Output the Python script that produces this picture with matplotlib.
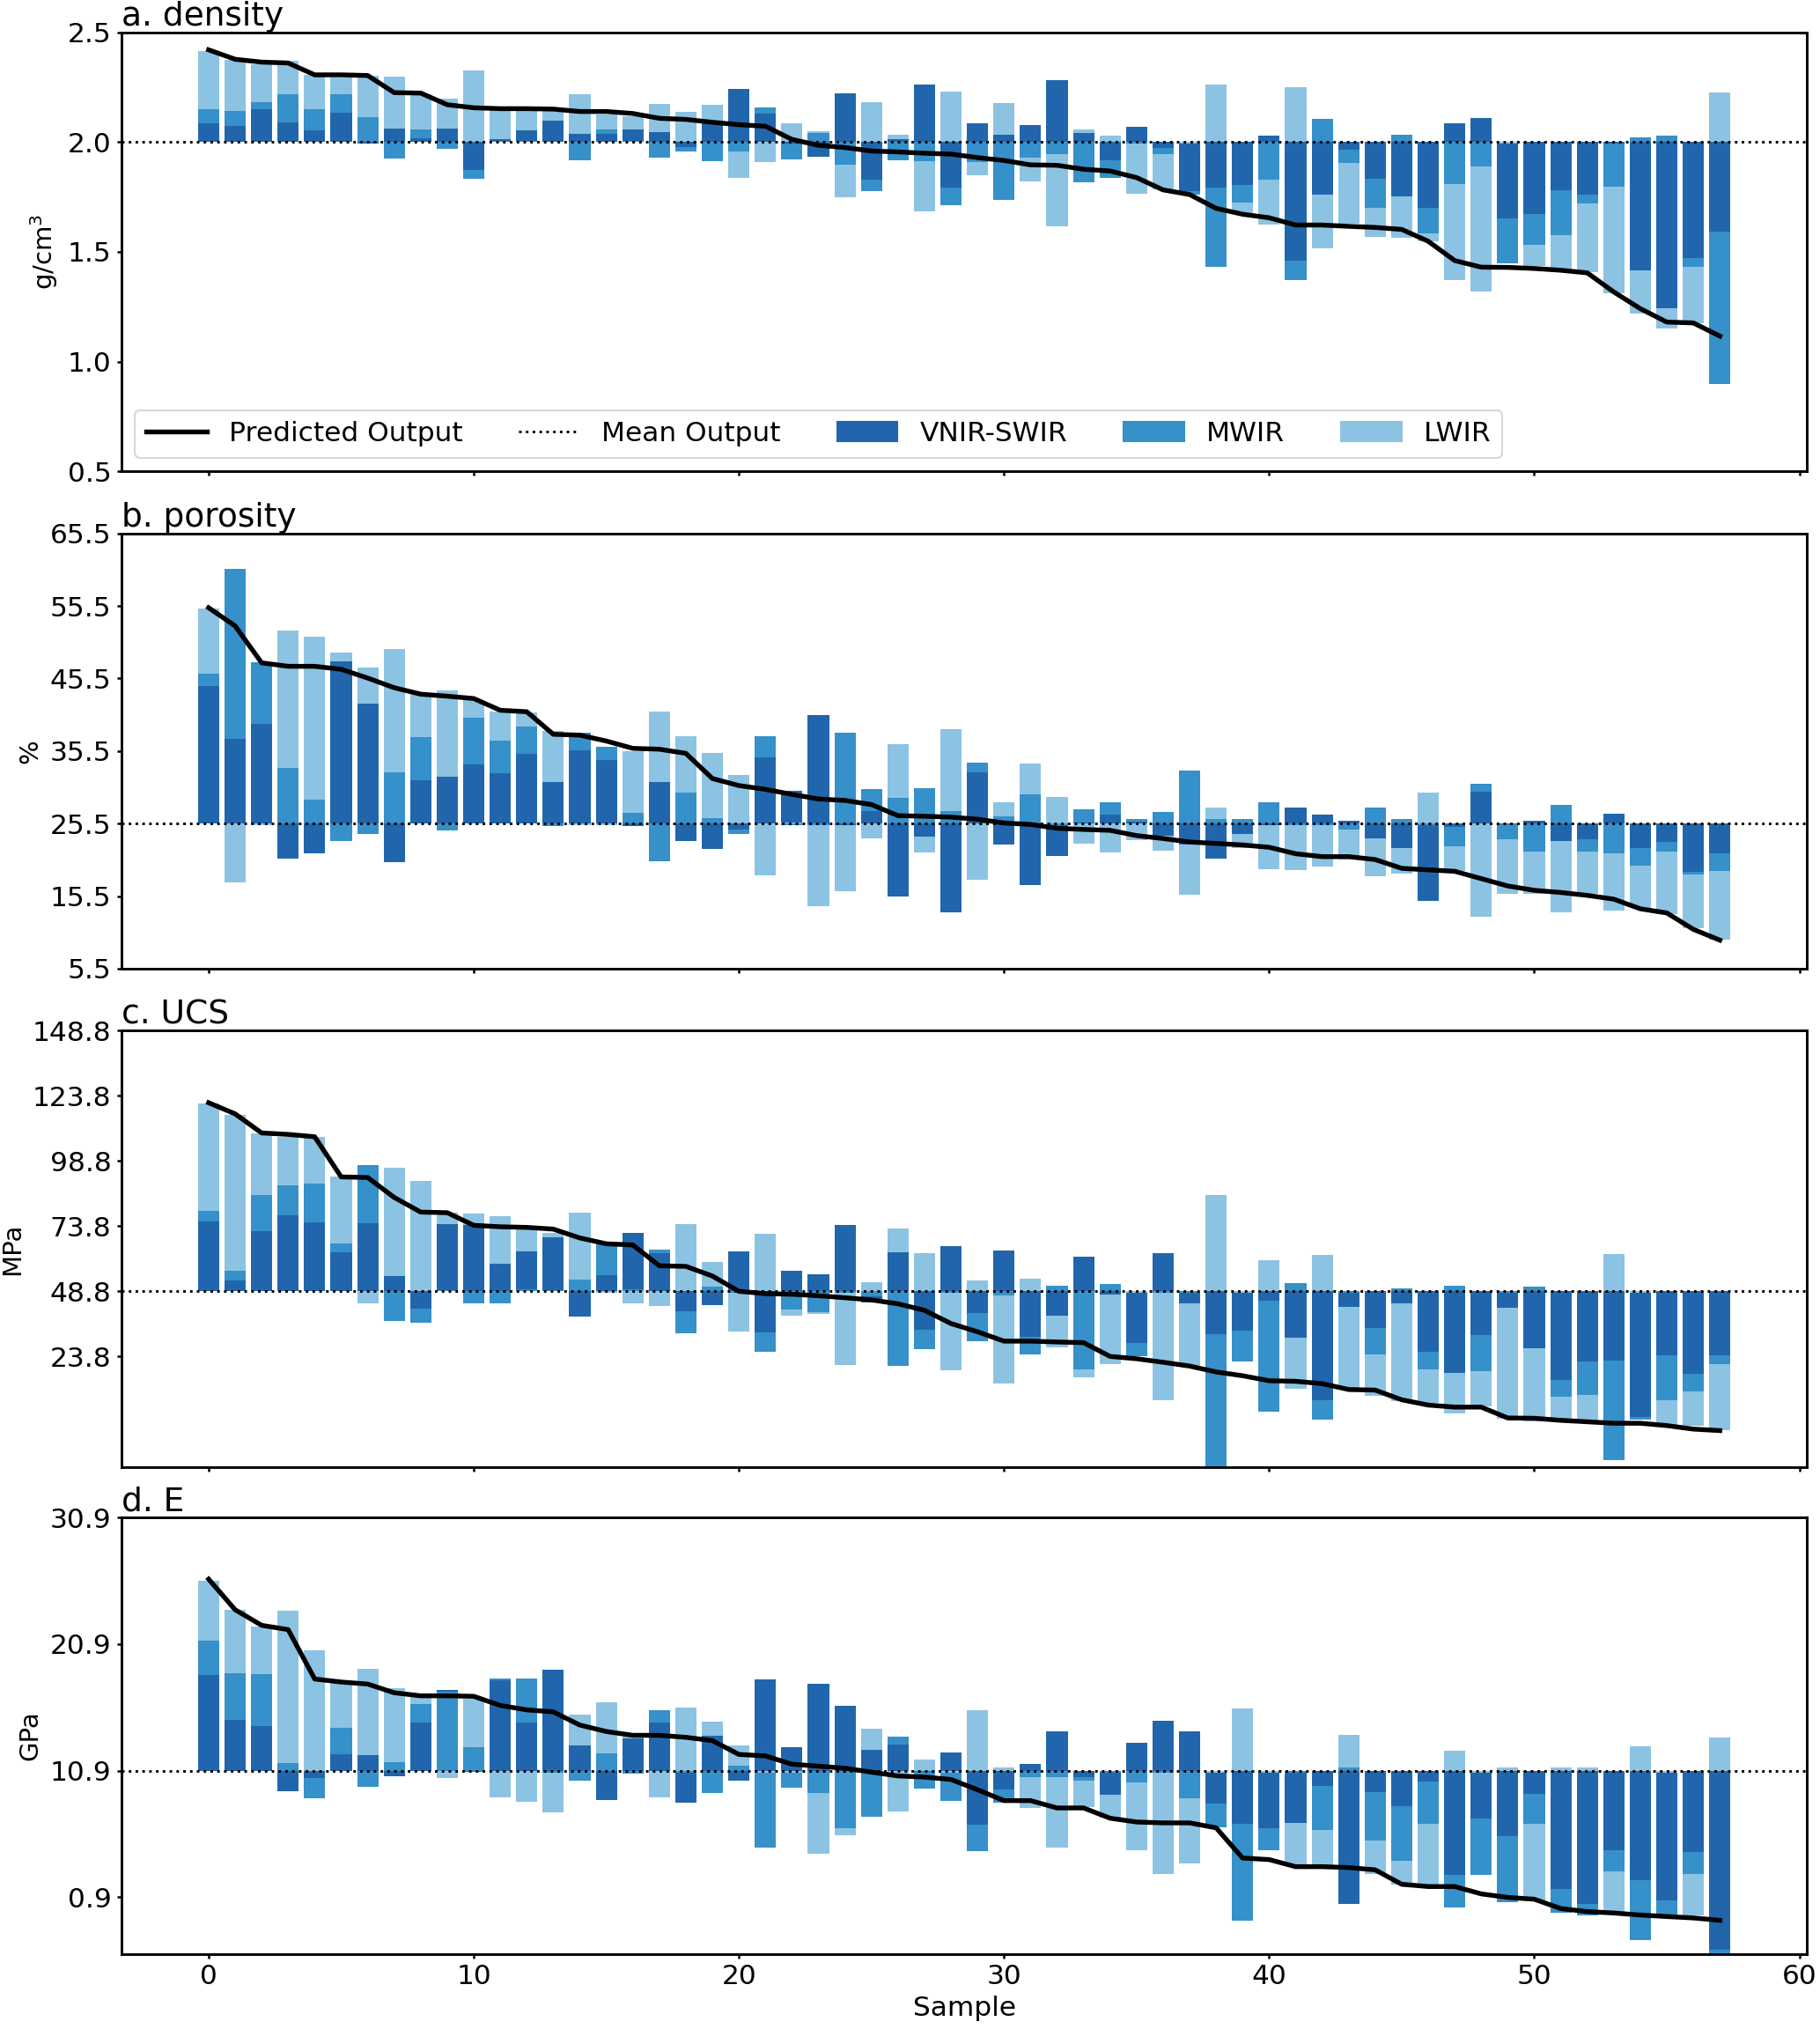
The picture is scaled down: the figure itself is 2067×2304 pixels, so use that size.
import numpy as np
import matplotlib
matplotlib.use("Agg")
import matplotlib.pyplot as plt
from matplotlib.lines import Line2D
from matplotlib.patches import Patch

samples = np.arange(58)

# ---------------- a. density ----------------
mean_a = 2.0
pred_a = [2.420, 2.377, 2.364, 2.360, 2.306, 2.306, 2.303, 2.225, 2.223, 2.170,
          2.156, 2.152, 2.152, 2.150, 2.139, 2.139, 2.130, 2.108, 2.103, 2.090,
          2.079, 2.072, 2.012, 1.985, 1.975, 1.959, 1.955, 1.949, 1.945, 1.929,
          1.916, 1.896, 1.894, 1.876, 1.868, 1.838, 1.782, 1.761, 1.698, 1.671,
          1.655, 1.622, 1.622, 1.616, 1.611, 1.602, 1.548, 1.460, 1.430, 1.429,
          1.424, 1.416, 1.404, 1.317, 1.241, 1.180, 1.176, 1.116]
vnir_a = [2.086, 2.072, 2.148, 2.088, 2.055, 2.135, 1.995, 2.061, 2.019, 2.063,
          1.874, 2.012, 2.055, 2.096, 2.036, 2.039, 2.059, 2.045, 1.976, 2.099,
          2.242, 2.128, 1.995, 1.932, 2.223, 1.828, 2.012, 2.263, 1.794, 2.084,
          2.035, 2.076, 2.282, 2.043, 1.918, 2.071, 1.972, 1.775, 1.794, 1.805,
          2.029, 1.460, 1.762, 1.964, 1.834, 1.751, 1.701, 2.084, 2.108, 1.651,
          1.671, 1.782, 1.762, 1.995, 1.414, 1.243, 1.471, 1.591]
mwir_a = [2.150, 2.143, 2.183, 2.217, 2.150, 2.219, 2.115, 1.925, 2.059, 1.969,
          1.833, 2.005, 2.004, 2.003, 1.918, 2.059, 2.004, 1.928, 1.959, 1.914,
          1.959, 2.156, 1.922, 2.041, 1.896, 1.775, 1.916, 1.914, 1.711, 1.908,
          1.738, 1.928, 1.945, 1.817, 1.837, 1.995, 1.945, 1.761, 1.433, 1.725,
          1.828, 1.370, 2.106, 1.904, 1.702, 2.032, 1.584, 1.807, 1.888, 1.447,
          1.533, 1.574, 1.721, 1.797, 2.021, 2.029, 1.430, 0.896]
lwir_a = [2.416, 2.373, 2.353, 2.370, 2.306, 2.295, 2.300, 2.299, 2.219, 2.199,
          2.326, 2.152, 2.147, 2.146, 2.219, 2.126, 2.119, 2.175, 2.138, 2.168,
          1.836, 1.910, 2.084, 2.048, 1.750, 2.183, 2.035, 1.683, 2.229, 1.848,
          2.176, 1.822, 1.615, 2.059, 2.029, 1.766, 1.785, 1.995, 2.262, 1.678,
          1.623, 2.250, 1.515, 1.627, 1.568, 1.564, 1.548, 1.370, 1.320, 1.995,
          1.434, 1.421, 1.408, 1.310, 1.217, 1.152, 1.174, 2.225]

# ---------------- b. porosity ----------------
mean_b = 25.5
pred_b = [55.25, 52.75, 47.66, 47.18, 47.18, 46.77, 45.56, 44.23, 43.34, 43.06,
          42.74, 41.12, 40.92, 37.81, 37.69, 36.88, 35.87, 35.75, 35.18, 31.71,
          30.74, 30.22, 29.53, 28.89, 28.69, 28.12, 26.59, 26.51, 26.39, 26.10,
          25.58, 25.38, 24.85, 24.69, 24.57, 23.84, 23.44, 22.96, 22.76, 22.55,
          22.23, 21.34, 20.94, 20.94, 20.54, 19.33, 19.12, 18.92, 17.91, 16.90,
          16.30, 16.00, 15.60, 15.08, 13.75, 13.18, 10.92, 9.43]
vnir_b = [44.47, 37.21, 39.19, 20.62, 21.42, 47.87, 42.05, 20.21, 31.48, 31.92,
          33.61, 32.44, 35.11, 31.23, 35.59, 34.30, 25.20, 31.27, 23.08, 22.03,
          24.70, 34.66, 30.00, 40.40, 25.30, 27.20, 15.49, 23.76, 13.27, 32.52,
          22.63, 17.02, 21.06, 25.70, 26.71, 25.80, 23.84, 22.55, 20.66, 24.09,
          25.30, 27.72, 26.79, 25.90, 23.44, 22.15, 14.88, 24.98, 29.94, 25.38,
          25.90, 23.04, 23.36, 26.91, 22.07, 22.96, 18.84, 21.34]
mwir_b = [46.17, 60.62, 47.79, 33.17, 28.77, 23.08, 24.09, 32.52, 37.45, 24.61,
          40.15, 36.93, 38.82, 25.20, 38.06, 36.12, 27.00, 20.25, 29.74, 26.27,
          24.09, 37.49, 25.30, 25.30, 38.00, 30.22, 29.01, 30.43, 27.20, 33.86,
          26.47, 29.50, 25.30, 27.48, 28.49, 26.07, 27.07, 32.77, 26.11, 26.11,
          28.49, 25.30, 25.30, 24.69, 27.72, 26.11, 25.30, 22.35, 30.95, 23.28,
          21.66, 28.12, 21.66, 21.34, 19.73, 21.66, 18.52, 19.00]
lwir_b = [55.17, 17.43, 25.30, 52.10, 51.22, 49.12, 46.98, 49.56, 43.42, 43.91,
          42.54, 40.90, 40.80, 38.22, 25.30, 25.30, 35.47, 41.00, 37.57, 35.27,
          32.24, 18.31, 25.70, 14.07, 16.20, 23.50, 36.48, 21.54, 38.50, 17.71,
          28.41, 33.78, 29.21, 22.75, 21.54, 23.16, 21.75, 15.69, 27.72, 22.07,
          19.20, 19.12, 19.53, 20.53, 18.23, 18.64, 29.74, 18.92, 12.66, 15.77,
          15.77, 13.27, 15.80, 13.47, 13.87, 13.07, 11.05, 9.55]

# ---------------- c. UCS ----------------
mean_c = 48.8
pred_c = [121.17, 116.89, 109.57, 109.01, 108.11, 92.69, 92.47, 84.82, 79.19, 78.97,
          74.12, 73.56, 73.33, 72.66, 69.28, 67.03, 66.58, 58.59, 58.37, 54.66,
          48.80, 47.90, 47.67, 47.11, 46.32, 45.50, 44.00, 41.50, 36.42, 33.27,
          29.67, 29.67, 29.34, 29.10, 23.81, 22.91, 21.56, 20.10, 17.85, 16.39,
          14.47, 14.25, 13.35, 11.10, 10.88, 7.16, 5.14, 4.35, 4.35, 0.18,
          0.07, -0.72, -1.28, -1.84, -1.84, -2.74, -4.09, -4.66]
vnir_c = [75.59, 53.08, 71.87, 78.06, 75.25, 63.77, 74.91, 54.77, 42.05, 74.69,
          74.12, 59.49, 64.22, 69.62, 39.23, 55.00, 71.31, 63.43, 41.15, 43.40,
          64.22, 33.04, 56.68, 55.33, 74.12, 44.50, 63.77, 33.94, 66.25, 40.36,
          64.56, 31.35, 39.57, 61.97, 47.70, 29.10, 63.43, 44.07, 32.48, 33.60,
          45.20, 31.13, 6.93, 42.95, 34.73, 44.07, 25.73, 17.62, 31.92, 42.61,
          26.85, 14.70, 21.79, 22.35, 0.74, 24.38, 17.06, 24.38]
mwir_c = [79.75, 56.68, 85.60, 89.32, 90.10, 67.15, 97.20, 37.32, 36.76, 49.30,
          44.30, 44.30, 49.50, 49.30, 53.30, 66.81, 49.50, 64.78, 32.71, 50.49,
          48.30, 25.50, 41.71, 40.92, 48.30, 47.00, 20.10, 26.50, 48.30, 29.67,
          47.10, 24.60, 50.83, 18.75, 51.61, 24.04, 48.30, 48.30, -19.50, 21.79,
          2.65, 51.84, -0.50, 48.30, 24.60, 49.81, 18.75, 51.05, 18.19, 48.30,
          50.49, 8.28, 9.18, -16.14, -0.50, 7.16, 10.31, 21.00]
lwir_c = [120.80, 116.55, 109.24, 108.11, 107.89, 92.92, 44.30, 96.07, 91.23, 78.85,
          78.63, 77.72, 73.56, 71.30, 78.96, 48.30, 44.07, 43.17, 74.69, 60.05,
          33.38, 70.97, 39.46, 40.02, 20.66, 52.40, 72.77, 63.43, 18.41, 52.96,
          13.57, 53.64, 27.19, 15.94, 21.00, 48.30, 6.93, 20.10, 85.60, 48.30,
          60.84, 11.43, 62.64, 11.43, 8.84, 6.59, 6.03, 2.09, 4.68, -0.16,
          -1.28, -1.28, -1.28, 63.09, 48.30, -2.97, -2.97, -4.66]

# ---------------- d. E ----------------
mean_d = 10.9
pred_d = [26.03, 23.61, 22.38, 22.04, 18.14, 17.90, 17.74, 17.05, 16.81, 16.81,
          16.77, 16.05, 15.70, 15.54, 14.50, 13.99, 13.69, 13.69, 13.53, 13.27,
          12.18, 12.06, 11.41, 11.25, 11.09, 10.78, 10.48, 10.39, 10.20, 9.39,
          8.53, 8.53, 7.95, 7.95, 7.14, 6.84, 6.77, 6.77, 6.38, 3.99,
          3.87, 3.31, 3.31, 3.24, 3.06, 1.92, 1.74, 1.74, 1.16, 0.88,
          0.74, 0.00, -0.24, -0.35, -0.51, -0.63, -0.74, -0.93]
vnir_d = [18.44, 14.89, 14.43, 9.28, 10.32, 12.22, 12.11, 10.48, 14.71, 17.28,
          10.80, 18.02, 14.71, 18.90, 12.92, 8.58, 13.45, 14.73, 8.39, 13.64,
          10.09, 18.09, 12.78, 17.79, 16.05, 12.52, 12.99, 10.80, 12.34, 6.61,
          9.39, 11.43, 14.03, 10.39, 8.97, 13.10, 14.84, 14.03, 8.28, 6.72,
          6.38, 6.79, 9.69, 0.34, 9.23, 8.07, 10.02, 2.66, 7.14, 5.73,
          9.09, 1.55, 0.34, 4.64, 2.25, 0.64, 4.45, -3.25]
mwir_d = [21.16, 18.60, 18.51, 11.48, 8.70, 14.31, 9.62, 11.60, 16.17, 17.16,
          12.76, 18.21, 18.16, 10.75, 10.09, 12.29, 10.67, 15.66, 10.75, 9.16,
          11.29, 4.82, 9.55, 9.16, 6.38, 7.23, 13.61, 9.46, 8.53, 4.52,
          8.35, 10.39, 10.39, 10.09, 10.75, 9.97, 10.75, 8.70, 6.42, -0.93,
          4.59, 10.75, 6.21, 11.18, 5.40, 3.78, 6.72, 0.11, 2.66, 0.53,
          6.72, -0.35, -0.54, 2.97, -2.51, -0.47, 2.71, -4.00]
lwir_d = [25.91, 23.61, 22.27, 23.57, 20.37, 17.86, 18.97, 17.44, 16.70, 10.32,
          16.58, 8.81, 8.42, 7.58, 15.35, 16.28, 13.80, 8.81, 15.89, 14.80,
          12.87, 10.75, 10.75, 4.33, 5.80, 14.22, 7.65, 11.78, 10.75, 15.70,
          11.13, 7.95, 4.82, 8.00, 7.19, 4.59, 2.73, 3.55, 10.75, 15.82,
          10.75, 3.43, 3.43, 13.75, 2.73, 1.92, 1.92, 12.45, 10.75, 11.13,
          0.64, 11.18, 11.13, -0.24, 12.83, 10.75, -0.54, 13.52]

panels = [
    dict(title="a. density", ylabel="g/cm$^3$", mean=mean_a, pred=pred_a,
         series=[vnir_a, mwir_a, lwir_a], ylim=(0.5, 2.5),
         ticks=[0.5, 1.0, 1.5, 2.0, 2.5]),
    dict(title="b. porosity", ylabel="%", mean=mean_b, pred=pred_b,
         series=[vnir_b, mwir_b, lwir_b], ylim=(5.5, 65.5),
         ticks=[5.5, 15.5, 25.5, 35.5, 45.5, 55.5, 65.5]),
    dict(title="c. UCS", ylabel="MPa", mean=mean_c, pred=pred_c,
         series=[vnir_c, mwir_c, lwir_c], ylim=(-18.7, 148.8),
         ticks=[23.8, 48.8, 73.8, 98.8, 123.8, 148.8]),
    dict(title="d. E", ylabel="GPa", mean=mean_d, pred=pred_d,
         series=[vnir_d, mwir_d, lwir_d], ylim=(-3.6, 30.9),
         ticks=[0.9, 10.9, 20.9, 30.9]),
]

series_names = ["VNIR-SWIR", "MWIR", "LWIR"]
colors = ["#2166ac", "#3690c9", "#8cc3e3"]

FS = 15
LFS = 14
TFS = 18

plt.rcParams["font.family"] = ["DejaVu Sans"]
fig, axes = plt.subplots(4, 1, figsize=(2067 / 150, 2304 / 150), dpi=150, sharex=True)

positions = [(0.7677, 0.9841), (0.5226, 0.7371), (0.2769, 0.4920), (0.0369, 0.2521)]
left, right = 0.0667, 0.9929

for ax, p, (b, t) in zip(axes, panels, positions):
    ax.set_position([left, b, right - left, t - b])
    mean = p["mean"]
    vals = np.array(p["series"], dtype=float)  # 3 x 58
    dev = vals - mean
    # larger deviations drawn first (behind), smaller ones on top
    ranks = np.argsort(np.argsort(-np.abs(dev), axis=0), axis=0)
    for k in range(3):
        bars = ax.bar(samples, dev[k], bottom=mean, width=0.8, color=colors[k],
                      linewidth=0, label=series_names[k])
        for j, patch in enumerate(bars.patches):
            patch.set_zorder(1 + ranks[k, j])
    ax.axhline(mean, color="black", ls=":", lw=1.4, zorder=6, label="Mean Output")
    ax.plot(samples, p["pred"], color="black", lw=2.6, zorder=7, label="Predicted Output")
    ax.set_ylim(*p["ylim"])
    ax.set_yticks(p["ticks"])
    ax.set_yticklabels([f"{v:.1f}" for v in p["ticks"]])
    ax.set_title(p["title"], loc="left", fontsize=TFS, pad=2)
    ax.set_ylabel(p["ylabel"], fontsize=LFS, labelpad=4)
    ax.tick_params(labelsize=FS, width=1.2, length=2.5, pad=3)
    for s in ax.spines.values():
        s.set_linewidth(1.4)

axes[-1].set_xticks([0, 10, 20, 30, 40, 50, 60])
axes[-1].set_xlabel("Sample", fontsize=FS, labelpad=3)

handles = [Line2D([], [], color="black", lw=2.6),
           Line2D([], [], color="black", ls=":", lw=1.4)] + \
          [Patch(color=c) for c in colors]
labels = ["Predicted Output", "Mean Output"] + series_names
axes[0].legend(handles, labels, loc="lower left", ncol=5, fontsize=FS,
               columnspacing=2.05, handlelength=2.2)

fig.savefig("out.png", dpi=150)
